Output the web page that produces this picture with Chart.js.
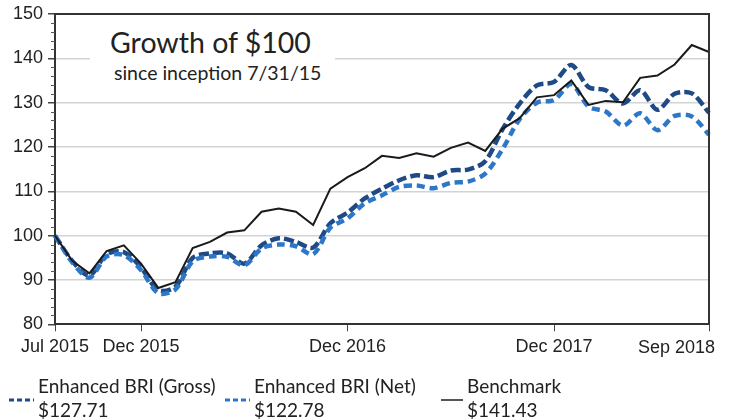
<!DOCTYPE html>
<html><head><meta charset="utf-8">
<script src="https://cdn.jsdelivr.net/npm/chart.js@4.4.0/dist/chart.umd.min.js"></script>
<style>
html,body{margin:0;padding:0;background:#fff;}
#wrap{position:relative;width:730px;height:420px;overflow:hidden;background:#fff;}
canvas{position:absolute;left:0;top:0;}
.lg{position:absolute;font-family:Lato,'Open Sans',sans-serif;font-size:19px;color:#222;line-height:24px;white-space:nowrap;}
.sw{position:absolute;}
#title{position:absolute;left:90px;top:20px;width:245px;height:70px;background:#fff;font-family:Lato,'Open Sans',sans-serif;color:#222;}
#title .t1{position:absolute;left:20px;top:5px;font-size:28.5px;line-height:34px;white-space:nowrap;}
#title .t2{position:absolute;left:24px;top:42px;font-size:19.5px;line-height:22px;white-space:nowrap;}
</style></head><body>
<div id="wrap"><canvas id="c" width="730" height="420"></canvas>
<div id="title"><div class="t1">Growth of $100</div><div class="t2">since inception 7/31/15</div></div>
<div id="legend"></div></div>
<script>
const months = ['Jul 2015','Aug 2015','Sep 2015','Oct 2015','Nov 2015','Dec 2015',
'Jan 2016','Feb 2016','Mar 2016','Apr 2016','May 2016','Jun 2016','Jul 2016','Aug 2016','Sep 2016','Oct 2016','Nov 2016','Dec 2016',
'Jan 2017','Feb 2017','Mar 2017','Apr 2017','May 2017','Jun 2017','Jul 2017','Aug 2017','Sep 2017','Oct 2017','Nov 2017','Dec 2017',
'Jan 2018','Feb 2018','Mar 2018','Apr 2018','May 2018','Jun 2018','Jul 2018','Aug 2018','Sep 2018'];
const xTickLabels = ['Jul 2015','Dec 2015','Dec 2016','Dec 2017','Sep 2018'];
const gross = [100,94.3,91.0,95.8,96.3,92.8,87.7,88.5,95.0,96.0,96.0,93.7,97.8,99.4,98.6,97.3,102.8,105.2,108.4,110.6,112.5,113.6,113.2,114.7,114.9,116.8,124.0,129.8,133.9,134.7,138.5,133.5,132.8,129.8,132.8,128.4,132.0,132.1,127.71];
const net = [100,94.0,90.5,95.3,95.6,92.2,87.0,87.9,94.2,95.3,95.2,93.3,97.1,98.0,97.6,95.8,101.8,103.9,107.3,109.1,111.0,111.3,110.7,111.9,112.2,114.0,119.5,126.3,130.0,130.6,134.2,129.1,128.0,124.8,127.6,123.8,127.0,126.9,122.78];
const bench = [100,94.3,91.5,96.5,97.8,93.7,88.2,89.5,97.2,98.6,100.7,101.2,105.4,106.1,105.4,102.4,110.6,113.2,115.2,118.0,117.5,118.6,117.8,119.8,121.0,119.1,124.1,126.5,131.2,131.7,135.0,129.5,130.4,130.1,135.6,136.1,138.6,143.0,141.43];
const seriesNames = ['Enhanced BRI (Gross)','Enhanced BRI (Net)','Benchmark'];
const seriesEnd = ['$127.71','$122.78','$141.43'];
const yMin = 80, yMax = 150, yMajor = 10, yMinor = 2;

const GROSS='#1F4A86', NET='#2E77C8', BENCH='#1a1a1a';
const tickFont = {family:'"Liberation Sans", Arial, sans-serif', size:18, lineHeight:1.0};

const framePlugin = {
  id:'frame',
  afterDraw(chart){
    const {ctx, chartArea:a, scales:{x,y}} = chart;
    ctx.save();
    ctx.strokeStyle='#555'; ctx.lineWidth=1;
    y.ticks.forEach(t=>{
      if (t.value % yMajor !== 0){
        const py = Math.round(y.getPixelForValue(t.value))+0.5;
        ctx.beginPath(); ctx.moveTo(a.left-4,py); ctx.lineTo(a.left,py); ctx.stroke();
      }
    });
    ctx.strokeStyle='#333'; ctx.lineWidth=2;
    ctx.beginPath(); ctx.moveTo(a.left,a.top); ctx.lineTo(a.right,a.top); ctx.lineTo(a.right,a.bottom); ctx.stroke();
    const lastLbl = xTickLabels[xTickLabels.length-1];
    const idx = months.indexOf(lastLbl);
    ctx.fillStyle='#222'; ctx.font='18px "Liberation Sans", Arial, sans-serif';
    ctx.textAlign='right'; ctx.textBaseline='middle';
    ctx.fillText(lastLbl, x.getPixelForValue(idx)+6, a.bottom+24);
    ctx.restore();
  }
};

new Chart(document.getElementById('c'), {
  type:'line',
  data:{
    labels: months,
    datasets:[
      {label:seriesNames[0], data:gross, borderColor:GROSS, borderWidth:4.5, borderDash:[10,4], pointRadius:0, tension:0.3, fill:false, order:2},
      {label:seriesNames[1], data:net, borderColor:NET, borderWidth:4.5, borderDash:[8,5], pointRadius:0, tension:0.3, fill:false, order:1},
      {label:seriesNames[2], data:bench, borderColor:BENCH, borderWidth:2, pointRadius:0, tension:0, fill:false, order:0}
    ]
  },
  options:{
    responsive:false, animation:false, devicePixelRatio:1,
    layout:{padding:{left:0,right:21,top:9.3,bottom:0}},
    plugins:{legend:{display:false}, tooltip:{enabled:false}},
    scales:{
      x:{
        type:'category', offset:false,
        border:{color:'#333', width:2},
        grid:{drawOnChartArea:false, tickLength:7,
          tickColor:(c)=> (c.tick && xTickLabels.includes(months[c.tick.value])) ? '#444' : 'rgba(0,0,0,0)'},
        ticks:{autoSkip:false, maxRotation:0, padding:7, color:'#222', font:tickFont,
          callback:function(v){ const l=months[v]; return (xTickLabels.includes(l) && l!==xTickLabels[xTickLabels.length-1]) ? l : ''; }},
        afterFit:(s)=>{ s.height = 420-324.3; }
      },
      y:{
        min:yMin, max:yMax,
        border:{color:'#333', width:2},
        grid:{tickLength:7, lineWidth:1.5,
          color:(c)=> (c.tick && c.tick.value%yMajor===0 && c.tick.value!==yMin && c.tick.value!==yMax) ? '#d3d3d3' : 'rgba(0,0,0,0)',
          tickColor:(c)=> (c.tick && c.tick.value%yMajor===0) ? '#444' : 'rgba(0,0,0,0)'},
        ticks:{stepSize:yMinor, autoSkip:false, padding:5, color:'#222', font:tickFont,
          callback:(v)=> v%yMajor===0 ? String(v) : ''},
        afterFit:(s)=>{ s.width = 55; }
      }
    }
  },
  plugins:[framePlugin]
});

// legend
const lg = document.getElementById('legend');
const items = [
  {sx:9, tx:38, color:GROSS, dash:'5,3', w:3},
  {sx:225, tx:254, color:NET, dash:'5,3', w:3},
  {sx:441, tx:467, color:'#555', dash:'', w:2}
];
items.forEach((it,i)=>{
  const svg = document.createElementNS('http://www.w3.org/2000/svg','svg');
  svg.setAttribute('width','25'); svg.setAttribute('height','6');
  svg.setAttribute('class','sw'); svg.style.left=it.sx+'px'; svg.style.top='397px';
  const ln = document.createElementNS('http://www.w3.org/2000/svg','line');
  ln.setAttribute('x1','0'); ln.setAttribute('x2', i===2?'22':'25'); ln.setAttribute('y1','3'); ln.setAttribute('y2','3');
  ln.setAttribute('stroke', it.color); ln.setAttribute('stroke-width', it.w);
  if (it.dash) ln.setAttribute('stroke-dasharray', it.dash);
  svg.appendChild(ln); lg.appendChild(svg);
  const d = document.createElement('div'); d.className='lg';
  d.style.left=it.tx+'px'; d.style.top='374px';
  d.innerHTML = seriesNames[i] + '<br>' + seriesEnd[i];
  lg.appendChild(d);
});
</script>
</body></html>
